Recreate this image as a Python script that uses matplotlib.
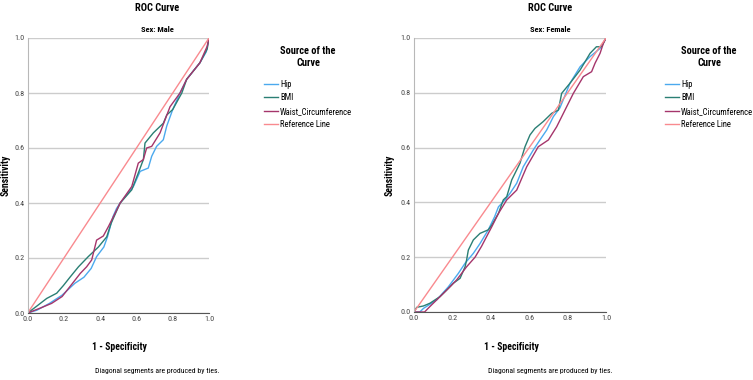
import matplotlib
matplotlib.use("Agg")
import matplotlib.pyplot as plt

plt.rcParams['font.family'] = ['Roboto Condensed', 'Liberation Sans Narrow', 'Liberation Sans', 'DejaVu Sans']

# ROC curves (1 - specificity, sensitivity)
male_hip_x = [0, 0.05, 0.12, 0.19, 0.26, 0.31, 0.35, 0.38, 0.42, 0.44, 0.47, 0.49, 0.51, 0.583,
              0.62, 0.665, 0.684, 0.711, 0.748, 0.767, 0.80, 0.84, 0.877, 0.95, 0.985, 1.0]
male_hip_y = [0, 0.01, 0.035, 0.065, 0.108, 0.13, 0.162, 0.205, 0.24, 0.277, 0.35, 0.38, 0.40, 0.46,
              0.515, 0.527, 0.57, 0.606, 0.63, 0.68, 0.74, 0.80, 0.85, 0.91, 0.95, 1.0]
male_bmi_x = [0, 0.05, 0.105, 0.16, 0.197, 0.233, 0.28, 0.334, 0.39, 0.436, 0.46, 0.51, 0.574,
              0.61, 0.638, 0.647, 0.693, 0.748, 0.767, 0.80, 0.85, 0.877, 0.95, 0.99, 1.0]
male_bmi_y = [0, 0.025, 0.053, 0.072, 0.10, 0.13, 0.168, 0.205, 0.24, 0.277, 0.326, 0.40, 0.448,
              0.509, 0.558, 0.618, 0.655, 0.69, 0.72, 0.74, 0.80, 0.85, 0.91, 0.96, 1.0]
male_waist_x = [0, 0.07, 0.132, 0.19, 0.233, 0.29, 0.325, 0.353, 0.38, 0.417, 0.445, 0.48, 0.51,
                0.574, 0.61, 0.638, 0.656, 0.684, 0.73, 0.785, 0.84, 0.877, 0.95, 0.99, 1.0]
male_waist_y = [0, 0.018, 0.035, 0.06, 0.096, 0.144, 0.168, 0.193, 0.265, 0.28, 0.314, 0.36, 0.40,
                0.46, 0.545, 0.558, 0.60, 0.606, 0.655, 0.75, 0.80, 0.85, 0.91, 0.97, 1.0]

female_hip_x = [0, 0.03, 0.049, 0.118, 0.179, 0.231, 0.266, 0.309, 0.344, 0.387, 0.42, 0.44, 0.474,
                0.5, 0.535, 0.569, 0.621, 0.656, 0.691, 0.726, 0.76, 0.8125, 0.865, 0.917, 0.969, 1.0]
female_hip_y = [0, 0.0, 0.013, 0.044, 0.092, 0.141, 0.178, 0.214, 0.25, 0.30, 0.348, 0.384, 0.409,
                0.433, 0.47, 0.53, 0.591, 0.628, 0.664, 0.713, 0.745, 0.835, 0.895, 0.932, 0.962, 1.0]
female_bmi_x = [0, 0.014, 0.049, 0.083, 0.135, 0.17, 0.205, 0.24, 0.266, 0.274, 0.283, 0.309, 0.344,
                0.387, 0.405, 0.44, 0.465, 0.483, 0.509, 0.552, 0.578, 0.604, 0.63, 0.673, 0.717,
                0.752, 0.769, 0.8125, 0.865, 0.917, 0.95, 0.977, 1.0]
female_bmi_y = [0, 0.017, 0.022, 0.032, 0.056, 0.08, 0.105, 0.123, 0.165, 0.19, 0.226, 0.263, 0.287,
                0.30, 0.317, 0.36, 0.409, 0.421, 0.482, 0.543, 0.603, 0.646, 0.67, 0.695, 0.725,
                0.737, 0.798, 0.835, 0.883, 0.944, 0.968, 0.968, 1.0]
female_waist_x = [0, 0.055, 0.083, 0.118, 0.153, 0.1875, 0.222, 0.274, 0.318, 0.352, 0.378, 0.405,
                  0.44, 0.483, 0.535, 0.587, 0.647, 0.70, 0.743, 0.795, 0.83, 0.882, 0.925, 0.943,
                  0.969, 0.986, 1.0]
female_waist_y = [0, 0, 0.02, 0.044, 0.068, 0.092, 0.117, 0.165, 0.20, 0.24, 0.275, 0.311, 0.36,
                  0.409, 0.445, 0.53, 0.603, 0.628, 0.676, 0.749, 0.798, 0.859, 0.877, 0.908, 0.944,
                  0.98, 1.0]

ref_line = [0, 1]
ticks = [0.0, 0.2, 0.4, 0.6, 0.8, 1.0]
labels = ["Hip", "BMI", "Waist_Circumference", "Reference Line"]
colors = ["#4ba9ee", "#2a7f74", "#a5356b", "#f98a8f"]

fig = plt.figure(figsize=(7.53, 3.80), dpi=100)


def roc_panel(rect, sex, curves, title_x, leg_x, xlabel_x, ylabel_x):
    ax = fig.add_axes(rect)
    for (xs, ys), col, lab in zip(curves, colors[:3], labels[:3]):
        ax.plot(xs, ys, color=col, lw=1.0, label=lab)
    ax.plot(ref_line, ref_line, color=colors[3], lw=1.0, label=labels[3])

    ax.set_xlim(0, 1)
    ax.set_ylim(0, 1)
    ax.set_xticks(ticks)
    ax.set_yticks(ticks)
    ax.set_xticklabels([f"{t:.1f}" for t in ticks])
    ax.set_yticklabels([f"{t:.1f}" for t in ticks])
    ax.tick_params(labelsize=5.8, colors="#444444", length=0, pad=2.5)
    ax.grid(axis="y", color="#cccccc", lw=1.0)
    ax.set_axisbelow(True)
    for s in ["top", "right"]:
        ax.spines[s].set_visible(False)
    ax.spines["left"].set_color("#b8b8b8")
    ax.spines["bottom"].set_color("#555555")

    # titles and labels
    fig.text(title_x, 1 - 8 / 380, "ROC Curve", ha="center", va="center",
             fontsize=7.5, fontweight="bold")
    fig.text(title_x, 1 - 30 / 380, "Sex: " + sex, ha="center", va="center",
             fontsize=6, fontweight="bold")
    fig.text(ylabel_x, 1 - 175 / 380, "Sensitivity", ha="center", va="center",
             rotation=90, fontsize=7, fontweight="bold")
    fig.text(xlabel_x, 1 - 347 / 380, "1 - Specificity", ha="center", va="center",
             fontsize=7, fontweight="bold")
    fig.text(title_x, 1 - 371 / 380, "Diagonal segments are produced by ties.",
             ha="center", va="center", fontsize=5.6)

    # legend title is placed on its own, entries below it
    fig.text(leg_x, 1 - 57 / 380, "Source of the\nCurve", ha="center", va="center",
             fontsize=7.5, fontweight="bold", multialignment="center", linespacing=1.15)
    ax.legend(loc="upper center", bbox_to_anchor=(leg_x, 1 - 74 / 380),
              bbox_transform=fig.transFigure, frameon=False, fontsize=6.2,
              handlelength=1.6, handletextpad=0.3, labelspacing=0.5, borderpad=0.2)
    return ax


roc_panel([27.7 / 753, 1 - 313 / 380, 181.3 / 753, 275 / 380], "Male",
          [(male_hip_x, male_hip_y), (male_bmi_x, male_bmi_y), (male_waist_x, male_waist_y)],
          157 / 753, 308 / 753, 119 / 753, 6 / 753)
roc_panel([414 / 753, 1 - 312 / 380, 192 / 753, 274 / 380], "Female",
          [(female_hip_x, female_hip_y), (female_bmi_x, female_bmi_y),
           (female_waist_x, female_waist_y)],
          550 / 753, 709 / 753, 511 / 753, 390 / 753)

fig.savefig("out.png", dpi=100)
